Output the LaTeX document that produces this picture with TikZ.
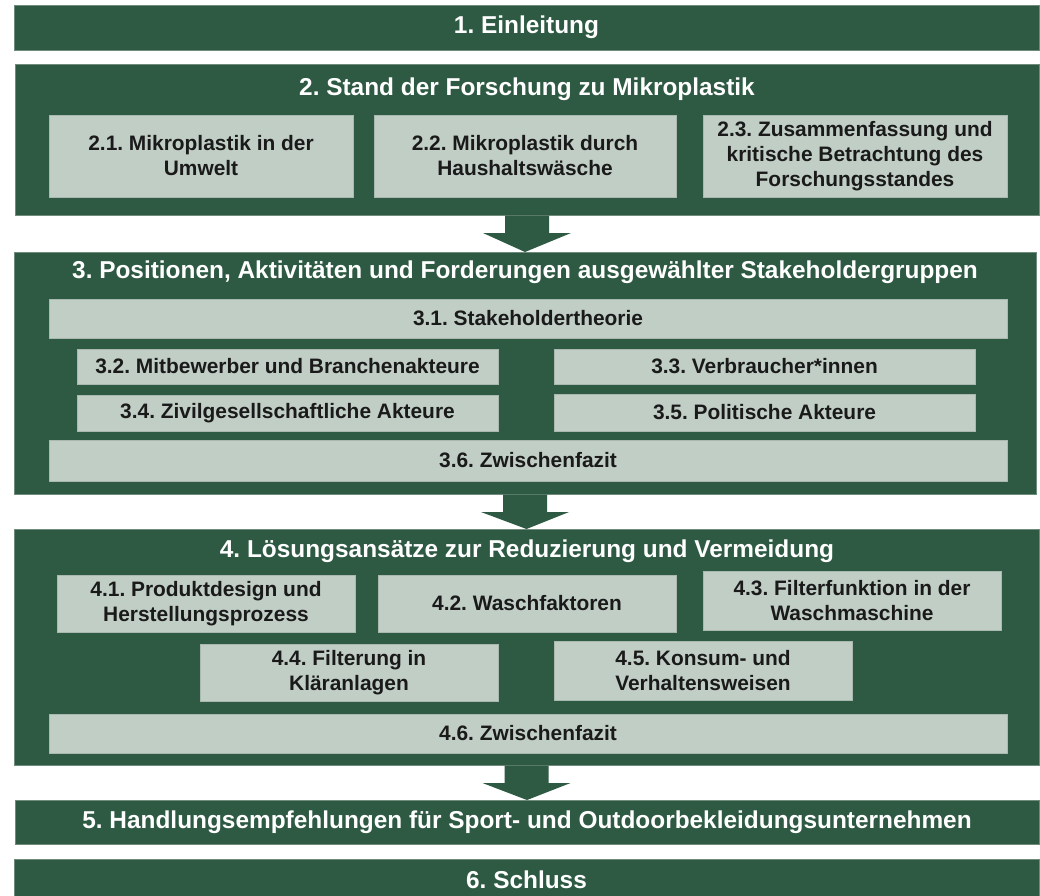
\documentclass[tikz,border=0pt]{standalone}
\usepackage{fontspec}
\setmainfont{Liberation Sans}
\usetikzlibrary{calc}
\frenchspacing
\definecolor{dg}{HTML}{2E5A43}
\definecolor{lg}{HTML}{C0CEC6}
\definecolor{dgb}{HTML}{6F8B7B}
\definecolor{lgb}{HTML}{A9B9AF}
\definecolor{txt}{HTML}{1A1A1A}
\newcommand\headfont{\fontsize{24.4}{28}\selectfont\bfseries\frenchspacing}
\newcommand\subfont{\fontsize{20.9}{25}\selectfont\bfseries\frenchspacing}
% name, style, x1, y1, x2, y2, text
\newcommand\bx[7]{\node[#2, minimum width={(#5-#3)*1pt}, minimum height={(#6-#4)*1pt}] (#1) at ({(#3+#5)/2},{(#4+#6)/2}) {#7};}
\newcommand\blockarr[2]{\fill[blockarrow] ($(#1.south)+(-22,0.5)$) -- ($(#1.south)+(-22,18)$) -- ($(#1.south)+(-44,18)$) -- (#2.north) -- ($(#1.south)+(44,18)$) -- ($(#1.south)+(22,18)$) -- ($(#1.south)+(22,0.5)$) -- cycle;}
\tikzset{
  darkbox/.style={fill=dg, draw=dgb, line width=0.6pt, inner sep=0pt, outer sep=0pt, text=white, font=\headfont},
  lightbox/.style={fill=lg, draw=lgb, line width=0.6pt, inner sep=0pt, outer sep=0pt, align=center, font=\subfont, text=txt},
  headtext/.style={text=white, font=\headfont, inner sep=0pt},
  blockarrow/.style={fill=dg, draw=none},
}
\begin{document}
\begin{tikzpicture}[x=1pt, y=-1pt]
\useasboundingbox (0,0) rectangle (1040,895);
\fill[white] (0,0) rectangle (1040,895);

\bx{b1}{darkbox}{14}{5}{1039}{50}{1. Einleitung}

\bx{b2}{darkbox}{15}{64}{1039}{215}{}
\node[headtext] (t2) at (527,89) {2. Stand der Forschung zu Mikroplastik};
\bx{b21}{lightbox}{49}{115}{353}{197}{2.1. Mikroplastik in der\\Umwelt}
\bx{b22}{lightbox}{374}{115}{676}{197}{2.2. Mikroplastik durch\\Haushaltswäsche}
\bx{b23}{lightbox}{703}{115}{1007}{197}{2.3. Zusammenfassung und\\kritische Betrachtung des\\Forschungsstandes}

\bx{b3}{darkbox}{14}{252}{1036}{494}{}
\node[headtext] (t3) at (525,272) {3. Positionen, Aktivitäten und Forderungen ausgewählter Stakeholdergruppen};
\bx{b31}{lightbox}{49}{299}{1007}{338}{3.1. Stakeholdertheorie}
\bx{b32}{lightbox}{77}{349}{498}{384}{3.2. Mitbewerber und Branchenakteure}
\bx{b33}{lightbox}{554}{349}{975}{384}{3.3. Verbraucher*innen}
\bx{b34}{lightbox}{77}{395}{498}{431}{3.4. Zivilgesellschaftliche Akteure}
\bx{b35}{lightbox}{554}{394}{975}{431}{3.5. Politische Akteure}
\bx{b36}{lightbox}{49}{440}{1007}{481}{3.6. Zwischenfazit}

\bx{b4}{darkbox}{14}{529}{1039}{765}{}
\node[headtext] (t4) at (527,551) {4. Lösungsansätze zur Reduzierung und Vermeidung};
\bx{b41}{lightbox}{57}{575}{355}{632}{4.1. Produktdesign und\\Herstellungsprozess}
\bx{b42}{lightbox}{378}{575}{676}{632}{4.2. Waschfaktoren}
\bx{b43}{lightbox}{703}{571}{1001}{630}{4.3. Filterfunktion in der\\Waschmaschine}
\bx{b44}{lightbox}{200}{644}{498}{701}{4.4. Filterung in\\Kläranlagen}
\bx{b45}{lightbox}{554}{641}{852}{700}{4.5. Konsum- und\\Verhaltensweisen}
\bx{b46}{lightbox}{49}{714}{1007}{753}{4.6. Zwischenfazit}

\bx{b5}{darkbox}{15}{800}{1039}{844}{5. Handlungsempfehlungen für Sport- und Outdoorbekleidungsunternehmen}
\bx{b6}{darkbox}{14}{859}{1039}{900}{6. Schluss}

\blockarr{b2}{b3}
\blockarr{b3}{b4}
\blockarr{b4}{b5}
\end{tikzpicture}
\end{document}
